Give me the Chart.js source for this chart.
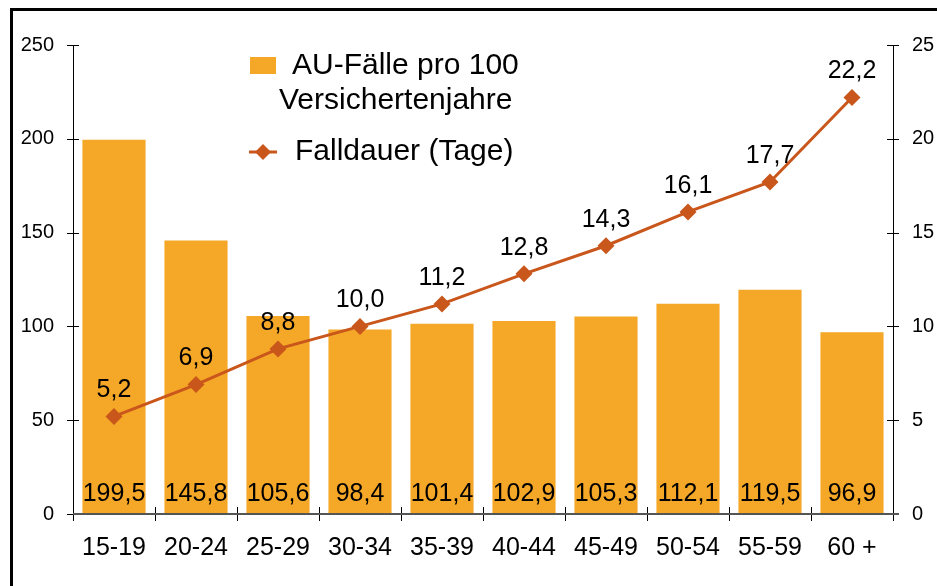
<!DOCTYPE html>
<html>
<head>
<meta charset="utf-8">
<script src="https://cdn.jsdelivr.net/npm/chart.js@4"></script>
<style>
  html, body { margin: 0; padding: 0; background: #fff; overflow: hidden; }
  #wrap { position: relative; width: 937px; height: 586px; }
  #frame { position: absolute; left: 10px; top: 8px; width: 940px; height: 600px; border: 3px solid #000; box-sizing: border-box; }
  canvas { position: absolute; left: 0; top: 0; }
</style>
</head>
<body>
<div id="wrap">
  <div id="frame"></div>
  <canvas id="chart" width="937" height="586"></canvas>
</div>
<script>
// Daten
const ageGroups = ['15-19', '20-24', '25-29', '30-34', '35-39', '40-44', '45-49', '50-54', '55-59', '60 +'];
const auFaelle = [199.5, 145.8, 105.6, 98.4, 101.4, 102.9, 105.3, 112.1, 119.5, 96.9];
const falldauer = [5.2, 6.9, 8.8, 10.0, 11.2, 12.8, 14.3, 16.1, 17.7, 22.2];
const leftTicks = [0, 50, 100, 150, 200, 250];
const rightTicks = [0, 5, 10, 15, 20, 25];

const BAR_COLOR = '#F5A727';
const LINE_COLOR = '#C9561B';
const FONT = "'Liberation Sans', Arial, sans-serif";

const fmt = v => v.toFixed(1).replace('.', ',');

// Achsen-Striche, Werte und Legende
const decorations = {
    id: 'decorations',
    afterDatasetsDraw(chart) {
        const { ctx, chartArea, scales } = chart;
        const x = scales.x, y = scales.y, y2 = scales.y2;
        ctx.save();

        // Achsenlinien
        ctx.strokeStyle = '#000';
        ctx.lineWidth = 1;
        ctx.beginPath();
        ctx.moveTo(chartArea.left + 0.5, chartArea.top);
        ctx.lineTo(chartArea.left + 0.5, chartArea.bottom);
        ctx.moveTo(chartArea.right + 0.5, chartArea.top);
        ctx.lineTo(chartArea.right + 0.5, chartArea.bottom);
        leftTicks.forEach(t => {
            const py = Math.round(y.getPixelForValue(t)) + 0.5;
            ctx.moveTo(chartArea.left - 6, py);
            ctx.lineTo(chartArea.left + 6, py);
        });
        rightTicks.forEach(t => {
            const py = Math.round(y2.getPixelForValue(t)) + 0.5;
            ctx.moveTo(chartArea.right - 6, py);
            ctx.lineTo(chartArea.right + 6, py);
        });
        const step = (chartArea.right - chartArea.left) / ageGroups.length;
        for (let i = 0; i <= ageGroups.length; i++) {
            const px = Math.round(chartArea.left + i * step) + 0.5;
            ctx.moveTo(px, chartArea.bottom - 7);
            ctx.lineTo(px, chartArea.bottom + 7);
        }
        ctx.stroke();

        ctx.strokeStyle = '#555';
        ctx.lineWidth = 2;
        ctx.beginPath();
        ctx.moveTo(chartArea.left, chartArea.bottom);
        ctx.lineTo(chartArea.right + 6, chartArea.bottom);
        ctx.stroke();

        // Balkenwerte
        ctx.fillStyle = '#000';
        ctx.font = '25px ' + FONT;
        ctx.textAlign = 'center';
        ctx.textBaseline = 'middle';
        auFaelle.forEach((v, i) => {
            ctx.fillText(fmt(v), x.getPixelForValue(i), chartArea.bottom - 20);
        });

        // Linienwerte
        falldauer.forEach((v, i) => {
            ctx.fillText(fmt(v), x.getPixelForValue(i), y2.getPixelForValue(v) - 26);
        });

        // Legende
        ctx.fillStyle = BAR_COLOR;
        ctx.fillRect(250, 57, 26, 17);
        ctx.fillStyle = '#000';
        ctx.font = '30px ' + FONT;
        ctx.textAlign = 'left';
        ctx.fillText('AU-Fälle pro 100', 292, 66);
        ctx.fillText('Versichertenjahre', 279, 101);

        ctx.strokeStyle = LINE_COLOR;
        ctx.lineWidth = 3;
        ctx.beginPath();
        ctx.moveTo(249, 152);
        ctx.lineTo(277, 152);
        ctx.stroke();
        ctx.fillStyle = LINE_COLOR;
        ctx.beginPath();
        ctx.moveTo(263, 144);
        ctx.lineTo(271, 152);
        ctx.lineTo(263, 160);
        ctx.lineTo(255, 152);
        ctx.closePath();
        ctx.fill();
        ctx.fillStyle = '#000';
        ctx.fillText('Falldauer (Tage)', 295, 152);

        ctx.restore();
    }
};

new Chart(document.getElementById('chart'), {
    data: {
        labels: ageGroups,
        datasets: [{
            type: 'line',
            label: 'Falldauer (Tage)',
            data: falldauer,
            yAxisID: 'y2',
            borderColor: LINE_COLOR,
            backgroundColor: LINE_COLOR,
            borderWidth: 3,
            pointStyle: 'rectRot',
            pointRadius: 8.5,
            pointBorderWidth: 0,
            tension: 0,
            order: 0
        }, {
            type: 'bar',
            label: 'AU-Fälle pro 100 Versichertenjahre',
            data: auFaelle,
            yAxisID: 'y',
            backgroundColor: BAR_COLOR,
            borderWidth: 0,
            categoryPercentage: 1,
            barPercentage: 0.77,
            order: 1
        }]
    },
    options: {
        responsive: false,
        animation: false,
        events: [],
        layout: { padding: { top: 45, left: 0, right: 0, bottom: 0 } },
        plugins: {
            legend: { display: false },
            tooltip: { enabled: false }
        },
        scales: {
            x: {
                grid: { display: false, drawTicks: false },
                border: { display: false },
                ticks: {
                    color: '#000',
                    font: { family: FONT, size: 25 },
                    padding: 19,
                    maxRotation: 0
                },
                afterFit(scale) { scale.height = 72; }
            },
            y: {
                position: 'left',
                min: 0,
                max: 250,
                grid: { display: false, drawTicks: false },
                border: { display: false },
                afterBuildTicks(scale) { scale.ticks = leftTicks.map(v => ({ value: v })); },
                ticks: {
                    color: '#000',
                    font: { family: FONT, size: 20 },
                    padding: 19
                },
                afterFit(scale) { scale.width = 73; }
            },
            y2: {
                position: 'right',
                min: 0,
                max: 25,
                grid: { display: false, drawTicks: false },
                border: { display: false },
                afterBuildTicks(scale) { scale.ticks = rightTicks.map(v => ({ value: v })); },
                ticks: {
                    color: '#000',
                    font: { family: FONT, size: 20 },
                    padding: 19
                },
                afterFit(scale) { scale.width = 44; }
            }
        }
    },
    plugins: [decorations]
});
</script>
</body>
</html>
